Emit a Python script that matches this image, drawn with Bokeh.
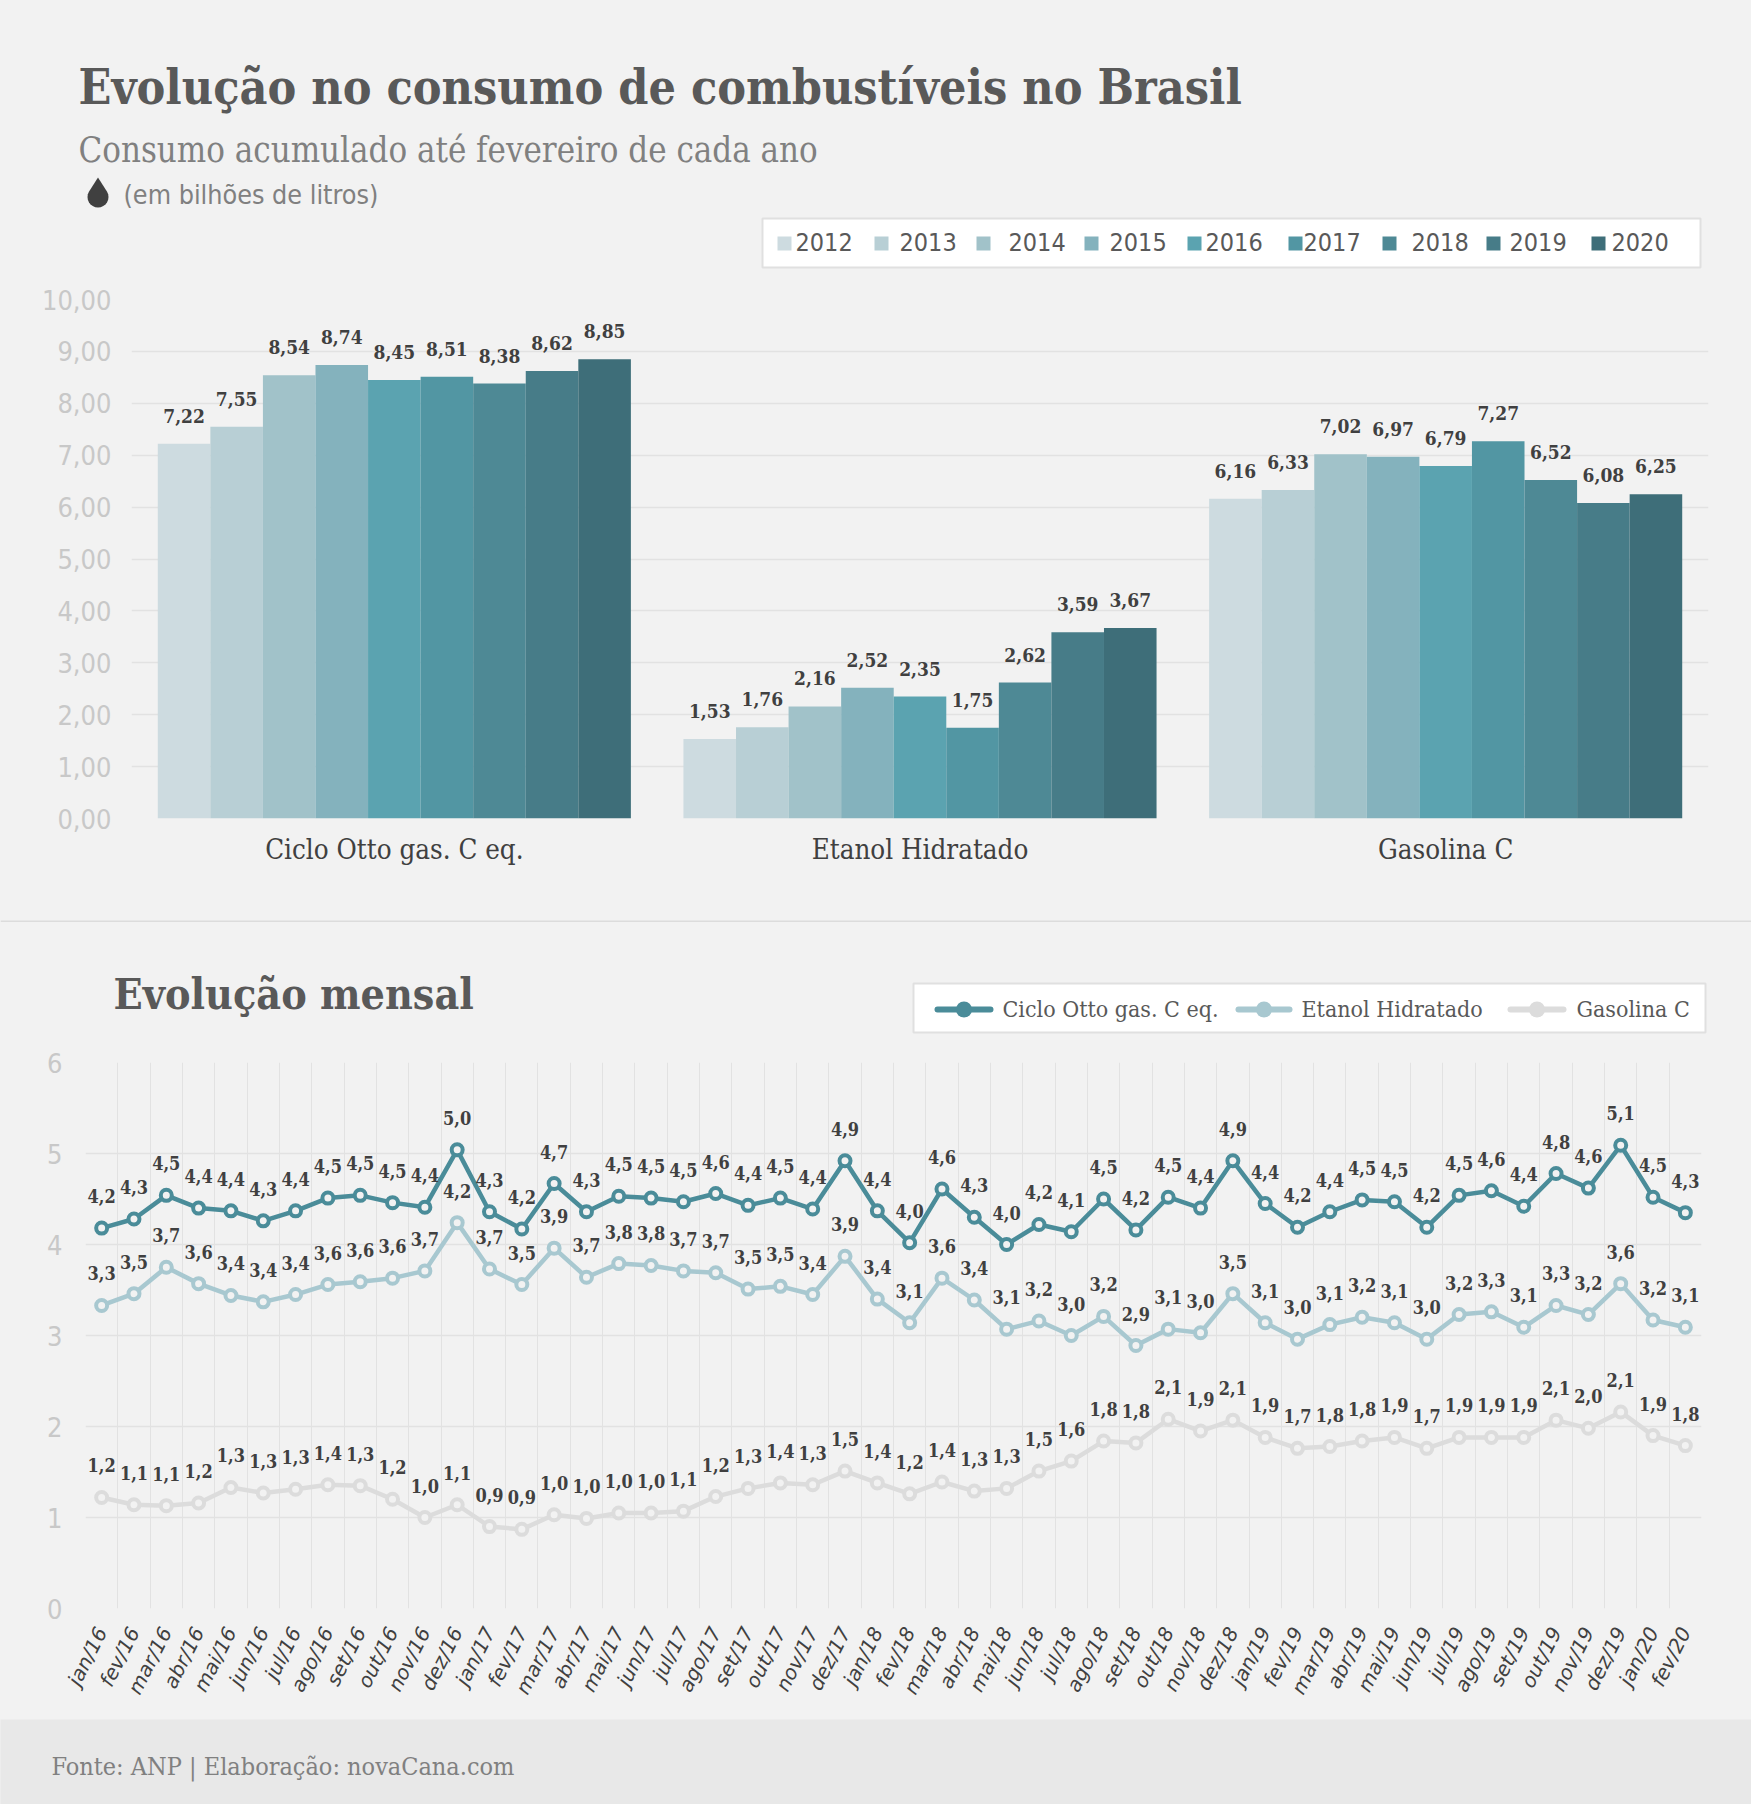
from bokeh.embed import file_html
from bokeh.resources import INLINE
from bokeh.plotting import figure
from bokeh.models import (ColumnDataSource, FactorRange, FixedTicker, Label, BoxAnnotation,
                          PolyAnnotation, GlobalInlineStyleSheet)
from bokeh.core.properties import value
from bokeh.transform import dodge
import math

# ---------- data ----------
years = ["2012", "2013", "2014", "2015", "2016", "2017", "2018", "2019", "2020"]
fuels = ["Ciclo Otto gas. C eq.", "Etanol Hidratado", "Gasolina C"]
ciclo_anual = [7.22, 7.55, 8.54, 8.74, 8.45, 8.51, 8.38, 8.62, 8.85]
etanol_anual = [1.53, 1.76, 2.16, 2.52, 2.35, 1.75, 2.62, 3.59, 3.67]
gasolina_anual = [6.16, 6.33, 7.02, 6.97, 6.79, 7.27, 6.52, 6.08, 6.25]
year_colors = ["#cddbe0", "#b8cfd5", "#a1c2c9", "#84b2bd", "#5ba3b0", "#5296a3", "#4e8995", "#477c88", "#3e6e79"]

months = ["jan/16", "fev/16", "mar/16", "abr/16", "mai/16", "jun/16", "jul/16", "ago/16", "set/16", "out/16",
          "nov/16", "dez/16", "jan/17", "fev/17", "mar/17", "abr/17", "mai/17", "jun/17", "jul/17", "ago/17",
          "set/17", "out/17", "nov/17", "dez/17", "jan/18", "fev/18", "mar/18", "abr/18", "mai/18", "jun/18",
          "jul/18", "ago/18", "set/18", "out/18", "nov/18", "dez/18", "jan/19", "fev/19", "mar/19", "abr/19",
          "mai/19", "jun/19", "jul/19", "ago/19", "set/19", "out/19", "nov/19", "dez/19", "jan/20", "fev/20"]
ciclo_mensal = [4.18, 4.28, 4.54, 4.40, 4.37, 4.26, 4.37, 4.51, 4.54, 4.46, 4.41, 5.04, 4.36, 4.17, 4.67, 4.36, 4.53,
                4.51, 4.47, 4.56, 4.43, 4.51, 4.39, 4.92, 4.37, 4.02, 4.61, 4.30, 4.00, 4.22, 4.14, 4.50, 4.16, 4.52,
                4.40, 4.92, 4.45, 4.19, 4.36, 4.49, 4.47, 4.19, 4.54, 4.59, 4.42, 4.78, 4.62, 5.09, 4.52, 4.35]
etanol_mensal = [3.33, 3.46, 3.75, 3.57, 3.44, 3.37, 3.45, 3.56, 3.59, 3.63, 3.71, 4.24, 3.73, 3.56, 3.96, 3.64, 3.79,
                 3.77, 3.71, 3.69, 3.51, 3.54, 3.45, 3.87, 3.40, 3.14, 3.63, 3.39, 3.07, 3.16, 3.00, 3.21, 2.89, 3.07,
                 3.03, 3.46, 3.14, 2.96, 3.12, 3.20, 3.14, 2.96, 3.23, 3.26, 3.09, 3.33, 3.23, 3.57, 3.17, 3.09]
gasolina_mensal = [1.22, 1.14, 1.13, 1.16, 1.33, 1.27, 1.31, 1.36, 1.35, 1.20, 1.00, 1.14, 0.90, 0.87, 1.03, 0.99, 1.05,
                   1.05, 1.07, 1.23, 1.32, 1.38, 1.36, 1.51, 1.38, 1.26, 1.39, 1.29, 1.32, 1.51, 1.62, 1.84, 1.82, 2.08,
                   1.95, 2.07, 1.88, 1.76, 1.78, 1.84, 1.88, 1.76, 1.88, 1.88, 1.88, 2.07, 1.98, 2.16, 1.90, 1.79]
ciclo_rotulos = ("4,2 4,3 4,5 4,4 4,4 4,3 4,4 4,5 4,5 4,5 4,4 5,0 4,3 4,2 4,7 4,3 4,5 4,5 4,5 4,6 4,4 4,5 4,4 4,9 4,4 "
                 "4,0 4,6 4,3 4,0 4,2 4,1 4,5 4,2 4,5 4,4 4,9 4,4 4,2 4,4 4,5 4,5 4,2 4,5 4,6 4,4 4,8 4,6 5,1 4,5 4,3").split()
etanol_rotulos = ("3,3 3,5 3,7 3,6 3,4 3,4 3,4 3,6 3,6 3,6 3,7 4,2 3,7 3,5 3,9 3,7 3,8 3,8 3,7 3,7 3,5 3,5 3,4 3,9 3,4 "
                  "3,1 3,6 3,4 3,1 3,2 3,0 3,2 2,9 3,1 3,0 3,5 3,1 3,0 3,1 3,2 3,1 3,0 3,2 3,3 3,1 3,3 3,2 3,6 3,2 3,1").split()
gasolina_rotulos = ("1,2 1,1 1,1 1,2 1,3 1,3 1,3 1,4 1,3 1,2 1,0 1,1 0,9 0,9 1,0 1,0 1,0 1,0 1,1 1,2 1,3 1,4 1,3 1,5 1,4 "
                    "1,2 1,4 1,3 1,3 1,5 1,6 1,8 1,8 2,1 1,9 2,1 1,9 1,7 1,8 1,8 1,9 1,7 1,9 1,9 1,9 2,1 2,0 2,1 1,9 1,8").split()

# ---------- style ----------
BG = "#f2f2f2"
GRID = "#e2e2e2"
SLAB = "DejaVu Serif Condensed"
SANS = "DejaVu Sans Condensed"
DARK = "#404040"
TITLE = "#595959"
GREY = "#808080"
TICK = "#c8c8c8"
C_CICLO, C_ETANOL, C_GAS = "#4a8c99", "#a8c8d0", "#dcdcdc"
W = 1751


def banner(height, fill=BG):
    """A figure without axes whose frame is the whole canvas, for titles and legends."""
    f = figure(width=W, height=height, x_range=(0, 1), y_range=(0, 1), output_backend="svg", toolbar_location=None,
               min_border=0, background_fill_color=fill, border_fill_color=fill, outline_line_color=None)
    f.axis.visible = False
    f.grid.visible = False
    return f


class Page:
    """Places annotations in page pixels on a banner whose lower edge is at page y = bottom."""
    def __init__(self, fig, bottom):
        self.fig, self.bottom = fig, bottom

    def text(self, s, x, yc, size, color, font=SLAB, style="normal", align="left"):
        self.fig.add_layout(Label(x=x, y=self.bottom - yc, x_units="screen", y_units="screen", text=s,
                                  text_font=font, text_font_size=f"{size}px", text_color=color,
                                  text_font_style=style, text_align=align, text_baseline="middle"))

    def box(self, l, t, r, b, fill, line=None, width=0, radius=0):
        self.fig.add_layout(BoxAnnotation(left=l, right=r, top=self.bottom - t, bottom=self.bottom - b,
                                          left_units="screen", right_units="screen", top_units="screen",
                                          bottom_units="screen", fill_color=fill, fill_alpha=1, line_color=line,
                                          line_alpha=1 if line else 0, line_width=width, border_radius=radius,
                                          editable=False))

    def poly(self, pts, fill):
        self.fig.add_layout(PolyAnnotation(xs=[p[0] for p in pts], ys=[self.bottom - p[1] for p in pts],
                                           xs_units="screen", ys_units="screen", fill_color=fill, fill_alpha=1,
                                           line_alpha=0))


def plain_axes(p):
    for ax in (p.xaxis, p.yaxis):
        ax.axis_line_color = None
        ax.major_tick_line_color = None
        ax.minor_tick_line_color = None


# ---------- header ----------
H1 = 280
h1 = banner(H1)
h1.stylesheets = [GlobalInlineStyleSheet(css=f"html,body{{margin:0;padding:0;background:{BG};overflow:hidden}}")]
ph = Page(h1, H1)
ph.text("Evolução no consumo de combustíveis no Brasil", 78, 86, 48, TITLE, style="bold")
ph.text("Consumo acumulado até fevereiro de cada ano", 78, 149, 34.5, GREY)
ph.text("(em bilhões de litros)", 123, 194, 26.7, GREY, font=SANS)
# drop icon: tip, then the round lower part
drop = [(97.5, 177)]
for t in range(150, 391, 15):
    drop.append((97.5 + 10.5 * math.cos(math.radians(t)), 196.5 - 10.5 * math.sin(math.radians(t))))
drop.append((97.5, 177))
ph.poly(drop, DARK)
ph.box(762, 218, 1700, 267, "#ffffff", "#e0e0e0", 2)
sw_x = [777, 874, 976, 1084, 1187, 1288, 1382, 1486, 1591]
tx_x = [795, 899, 1008, 1109, 1205, 1303, 1411, 1509, 1611]
for yr, col, sx, tx in zip(years, year_colors, sw_x, tx_x):
    ph.box(sx, 236, sx + 14, 250, col)
    ph.text(yr, tx, 241, 25, TITLE, font=SANS)

# ---------- top chart ----------
HA = 920 - H1
FA_L, FA_R, FA_T, FA_B = 131, 1708, 299, 818
a = figure(width=W, height=HA, x_range=FactorRange(factors=fuels, range_padding=0), y_range=(0, 10),
           output_backend="svg", toolbar_location=None, min_border_left=FA_L, min_border_right=W - FA_R,
           min_border_top=FA_T - H1, min_border_bottom=920 - FA_B, background_fill_color=BG, border_fill_color=BG,
           outline_line_color=None)
a.xgrid.visible = False
a.ygrid.ticker = FixedTicker(ticks=list(range(0, 11)))
a.ygrid.grid_line_color = GRID
a.ygrid.grid_line_width = 1.5
a.yaxis.ticker = FixedTicker(ticks=list(range(0, 11)))
a.yaxis.major_label_overrides = {i: f"{i},00" for i in range(0, 11)}
a.yaxis.major_label_text_font = SANS
a.yaxis.major_label_text_font_size = "27px"
a.yaxis.major_label_text_color = TICK
a.yaxis.major_label_standoff = 14
plain_axes(a)
a.xaxis.major_label_text_font = SLAB
a.xaxis.major_label_text_font_size = "27.5px"
a.xaxis.major_label_text_color = DARK
a.xaxis.major_label_standoff = 8

series_anual = list(zip(ciclo_anual, etanol_anual, gasolina_anual))
for i, (yr, col, vals) in enumerate(zip(years, year_colors, series_anual)):
    off = (i - 4) * 0.1
    src = ColumnDataSource(dict(x=fuels, top=list(vals), lab=[f"{v:.2f}".replace(".", ",") for v in vals]))
    a.vbar(x=dodge("x", off, range=a.x_range), top="top", width=0.1, source=src, fill_color=col, line_color=None)
    a.text(x=dodge("x", off, range=a.x_range), y="top", text="lab", source=src, text_align="center",
           text_baseline="middle", y_offset=-28, text_font=value(SLAB), text_font_size="19px",
           text_font_style="bold", text_color=DARK)

# ---------- section banner ----------
H2 = 120
h2 = banner(H2)
p2 = Page(h2, 920 + H2)
p2.box(0, 919.5, W, 921.5, "#dcdcdc")
p2.text("Evolução mensal", 113, 993, 42.6, TITLE, style="bold")
p2.box(913, 983, 1705, 1032, "#ffffff", "#e0e0e0", 2)
for (name, col, sw_l, sw_r, tx) in [("Ciclo Otto gas. C eq.", C_CICLO, 934, 993, 1002),
                                    ("Etanol Hidratado", C_ETANOL, 1235, 1292, 1301),
                                    ("Gasolina C", C_GAS, 1507, 1566, 1576)]:
    p2.box(sw_l, 1006, sw_r, 1012, col, radius=3)
    mid = (sw_l + sw_r) / 2
    p2.box(mid - 8, 1001, mid + 8, 1017, col, radius=8)
    p2.text(name, tx, 1008, 23, TITLE)

# ---------- bottom chart ----------
TOPB = 920 + H2
FB_L, FB_R, FB_T, FB_B = 85, 1701, 1062, 1608
HB = 1719 - TOPB
b = figure(width=W, height=HB, x_range=(0, len(months)), y_range=(0, 6), output_backend="svg",
           toolbar_location=None, min_border_left=FB_L, min_border_right=W - FB_R, min_border_top=FB_T - TOPB,
           min_border_bottom=TOPB + HB - FB_B, background_fill_color=BG, border_fill_color=BG, outline_line_color=None)
xs = [i + 0.5 for i in range(len(months))]
b.xgrid.ticker = FixedTicker(ticks=list(range(len(months) + 1)))
b.ygrid.ticker = FixedTicker(ticks=list(range(0, 7)))
b.xgrid.grid_line_color = GRID
b.xgrid.grid_line_width = 1
b.ygrid.grid_line_color = GRID
b.ygrid.grid_line_width = 1.5
b.yaxis.ticker = FixedTicker(ticks=list(range(0, 7)))
b.xaxis.ticker = FixedTicker(ticks=xs)
b.xaxis.major_label_overrides = dict(zip(xs, months))
b.xaxis.major_label_orientation = math.radians(63)
b.xaxis.major_label_text_font = "DejaVu Sans"
b.xaxis.major_label_text_font_style = "italic"
b.xaxis.major_label_text_font_size = "20px"
b.xaxis.major_label_text_color = DARK
b.xaxis.major_label_standoff = 14
b.yaxis.major_label_text_font = SANS
b.yaxis.major_label_text_font_size = "27px"
b.yaxis.major_label_text_color = TICK
b.yaxis.major_label_standoff = 17
plain_axes(b)

for name, vals, labs, col in [("Gasolina C", gasolina_mensal, gasolina_rotulos, C_GAS),
                              ("Etanol Hidratado", etanol_mensal, etanol_rotulos, C_ETANOL),
                              ("Ciclo Otto gas. C eq.", ciclo_mensal, ciclo_rotulos, C_CICLO)]:
    src = ColumnDataSource(dict(x=xs, y=vals, lab=labs))
    b.line("x", "y", source=src, line_color=col, line_width=4.5)
    b.scatter("x", "y", source=src, size=11, line_color=col, line_width=4, fill_color=BG)
    b.text("x", "y", text="lab", source=src, y_offset=-32, text_align="center", text_baseline="middle",
           text_font=value(SLAB), text_font_size="18px", text_font_style="bold", text_color=DARK)

# ---------- footer ----------
HC = 85
c = banner(HC, "#e8e8e8")
pc = Page(c, 1719 + HC)
pc.text("Fonte: ANP | Elaboração: novaCana.com", 51, 1766, 25, GREY)

roots = (h1, a, h2, b, c)
open("out.html", "w").write(file_html(roots, INLINE))
